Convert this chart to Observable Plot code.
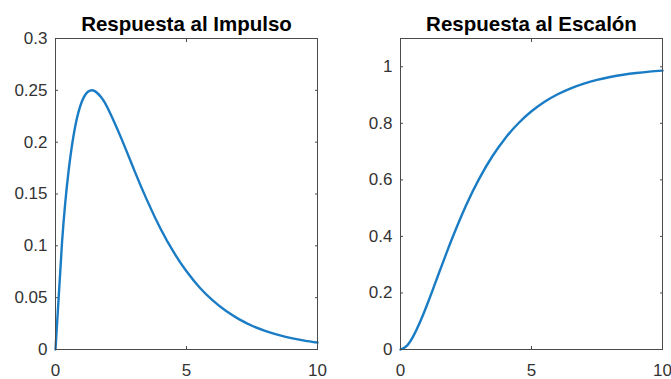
<!DOCTYPE html>
<html><head><meta charset="utf-8">
<script src="https://cdn.jsdelivr.net/npm/d3@7"></script>
<script src="https://cdn.jsdelivr.net/npm/@observablehq/plot@0.6"></script>
<style>
html,body{margin:0;padding:0;background:#fff;}
#wrap{position:relative;width:671px;height:379px;overflow:hidden;background:#fff;}
#left{position:absolute;left:0;top:0;}
#right{position:absolute;left:335px;top:0;}
</style></head><body><div id="wrap"><div id="left"></div><div id="right"></div></div>
<script>
// time samples (s)
const t = [0, 0.25, 0.5, 0.75, 1, 1.25, 1.5, 1.75, 2, 2.5, 3, 3.5, 4, 4.5, 5, 5.5, 6, 6.5, 7, 7.5, 8, 8.5, 9, 9.5, 10];
// impulse response values
const impulse = [0, 0.1037, 0.1723, 0.2149, 0.2387, 0.2488, 0.2492, 0.2431, 0.2325, 0.2044, 0.1733, 0.1436, 0.1170, 0.0943, 0.0754, 0.0598, 0.0473, 0.0373, 0.0293, 0.0229, 0.0180, 0.0141, 0.0110, 0.0086, 0.0067];
// step response values
const step = [0, 0.0138, 0.0489, 0.0978, 0.1548, 0.2159, 0.2784, 0.3400, 0.3995, 0.5091, 0.6035, 0.6826, 0.7476, 0.8003, 0.8425, 0.8763, 0.9029, 0.9239, 0.9405, 0.9536, 0.9637, 0.9717, 0.9779, 0.9828, 0.9865];
const xTicks = [0, 5, 10];
const impulseTicks = [0, 0.05, 0.1, 0.15, 0.2, 0.25, 0.3];
const stepTicks = [0, 0.2, 0.4, 0.6, 0.8, 1];
const titles = ["Respuesta al Impulso", "Respuesta al Escalón"];

const axisColor = "#4a4a4a";
const fmt = d3.format("~g");
const blank = () => "";

function panel({values, yDomain, yTicks, title, width, marginLeft, marginRight}) {
  const data = t.map((x, i) => ({t: x, v: values[i]}));
  return Plot.plot({
    width, height: 379, marginLeft, marginRight, marginTop: 38, marginBottom: 30,
    style: {fontFamily: "'Liberation Sans', Arial, sans-serif", fontSize: "17px", color: "#333333", background: "white", overflow: "visible"},
    x: {domain: [0, 10]},
    y: {domain: yDomain},
    marks: [
      Plot.axisX(xTicks, {anchor: "bottom", tickSize: 0, tickPadding: 14, tickFormat: fmt, label: null}),
      Plot.axisX(xTicks, {anchor: "bottom", tickSize: 3, dy: -3, tickFormat: blank, label: null, stroke: axisColor}),
      Plot.axisX(xTicks, {anchor: "top", tickSize: 3, dy: 3, tickFormat: blank, label: null, stroke: axisColor}),
      Plot.axisY(yTicks, {anchor: "left", tickSize: 0, tickPadding: 8, tickFormat: fmt, label: null}),
      Plot.axisY(yTicks, {anchor: "left", tickSize: 3, dx: 3, tickFormat: blank, label: null, stroke: axisColor}),
      Plot.axisY(yTicks, {anchor: "right", tickSize: 3, dx: -3, tickFormat: blank, label: null, stroke: axisColor}),
      Plot.line(data, {x: "t", y: "v", stroke: "#1a7cc4", strokeWidth: 2.4, curve: "natural"}),
      Plot.frame({stroke: axisColor}),
      Plot.text([title], {frameAnchor: "top", dy: -22.5, fontSize: 20.5, fontWeight: "bold", fill: "#000"})
    ]
  });
}

document.getElementById("left").appendChild(panel({
  values: impulse, yDomain: [0, 0.3], yTicks: impulseTicks, title: titles[0],
  width: 335, marginLeft: 55, marginRight: 18
}));
document.getElementById("right").appendChild(panel({
  values: step, yDomain: [0, 1.1], yTicks: stepTicks, title: titles[1],
  width: 336, marginLeft: 65, marginRight: 9
}));
</script></body></html>
